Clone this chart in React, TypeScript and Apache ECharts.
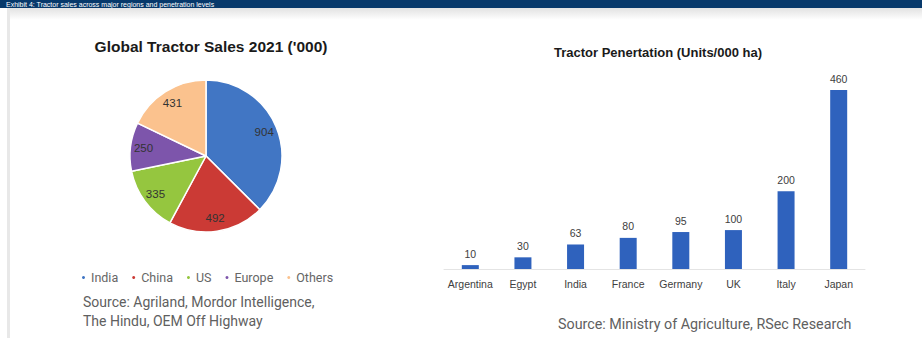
import React, { useEffect, useRef } from "react";
import * as echarts from "echarts";

const regions = ["India", "China", "US", "Europe", "Others"];
const sales = [904, 492, 335, 250, 431];
const regionColors = ["#4176C4", "#CB3A35", "#95C63F", "#7D55AB", "#FBC28E"];

const countries = ["Argentina", "Egypt", "India", "France", "Germany", "UK", "Italy", "Japan"];
const penetration = [10, 30, 63, 80, 95, 100, 200, 460];

const headerText = "Exhibit 4: Tractor sales across major regions and penetration levels";
const pieTitle = "Global Tractor Sales 2021 ('000)";
const barTitle = "Tractor Penertation (Units/000 ha)";
const sourceLeft1 = "Source: Agriland, Mordor Intelligence,";
const sourceLeft2 = "The Hindu, OEM Off Highway";
const sourceRight = "Source: Ministry of Agriculture, RSec Research";

export default function App() {
  const ref = useRef<HTMLDivElement>(null);
  useEffect(() => {
    if (!ref.current) return;
    const chart = echarts.init(ref.current, undefined, { renderer: "svg" });
    const pieData = regions.map((n, i) => ({ name: n, value: sales[i], itemStyle: { color: regionColors[i] } }));
    chart.setOption({
      animation: false,
      backgroundColor: "#ffffff",
      title: [
        {
          text: pieTitle,
          left: 206,
          top: 33,
          textAlign: "center",
          textStyle: { fontFamily: "Liberation Sans", fontSize: 15.5, fontWeight: "bold", color: "#1a1a1a" },
        },
        {
          text: barTitle,
          left: 653,
          top: 41,
          textAlign: "center",
          textStyle: { fontFamily: "Liberation Sans", fontSize: 13, fontWeight: "bold", color: "#1a1a1a" },
        },
      ],
      legend: {
        data: regions,
        left: 75,
        top: 266,
        icon: "circle",
        itemWidth: 5,
        itemHeight: 5,
        itemGap: 12,
        textStyle: { fontFamily: "Roboto", fontSize: 12.5, color: "#666666" },
      },
      grid: { left: 444, right: 57, top: 90, bottom: 69 },
      xAxis: {
        type: "category",
        data: countries,
        axisLine: { show: true, lineStyle: { color: "#E4E4E4" } },
        axisTick: { show: false },
        axisLabel: { interval: 0, fontFamily: "Liberation Sans", fontSize: 10.5, color: "#404040", margin: 9 },
      },
      yAxis: { type: "value", min: 0, max: 460, show: false, splitLine: { show: false } },
      graphic: [
        { type: "rect", shape: { x: 0, y: 0, width: 922, height: 8 }, style: { fill: "#07396B" } },
        {
          type: "text",
          x: 6,
          y: 4,
          style: {
            text: headerText,
            fill: "#ffffff",
            font: "7px 'Liberation Sans'",
            verticalAlign: "middle",
          },
        },
        {
          type: "rect",
          shape: { x: 7, y: 8, width: 915, height: 12 },
          style: {
            fill: new echarts.graphic.LinearGradient(0, 0, 0, 1, [
              { offset: 0, color: "#E2E2E2" },
              { offset: 1, color: "#FFFFFF" },
            ]),
          },
        },
        { type: "rect", shape: { x: 7, y: 8, width: 3, height: 330 }, style: { fill: "#E8E8E8" } },
        {
          type: "text",
          x: 83,
          y: 302,
          style: { text: sourceLeft1, fill: "#606060", font: "14px Roboto", verticalAlign: "middle" },
        },
        {
          type: "text",
          x: 83,
          y: 321,
          style: { text: sourceLeft2, fill: "#606060", font: "14px Roboto", verticalAlign: "middle" },
        },
        {
          type: "text",
          x: 558,
          y: 324,
          style: { text: sourceRight, fill: "#606060", font: "14.3px Roboto", verticalAlign: "middle" },
        },
      ],
      series: [
        {
          type: "pie",
          center: [206, 156],
          radius: [0, 76],
          startAngle: 90,
          clockwise: true,
          data: pieData,
          itemStyle: { borderColor: "#ffffff", borderWidth: 1.5 },
          label: { show: false },
          labelLine: { show: false },
        },
        {
          type: "pie",
          center: [206, 156],
          radius: [0, 120],
          startAngle: 90,
          clockwise: true,
          silent: true,
          data: pieData.map((d) => ({ name: d.name, value: d.value, itemStyle: { color: "rgba(0,0,0,0)" } })),
          itemStyle: { borderWidth: 0 },
          label: {
            show: true,
            position: "inside",
            formatter: "{c}",
            fontFamily: "Liberation Sans",
            fontSize: 11.5,
            color: "#333333",
          },
          labelLine: { show: false },
          z: 3,
        },
        {
          type: "bar",
          data: penetration,
          barWidth: 17,
          itemStyle: { color: "#2F62BD" },
          label: {
            show: true,
            position: "top",
            distance: 6,
            fontFamily: "Liberation Sans",
            fontSize: 10.5,
            color: "#404040",
          },
        },
      ],
    });
    return () => chart.dispose();
  }, []);
  return (
    <div
      ref={ref}
      style={{ position: "fixed", left: 0, top: 0, width: 922, height: 338 }}
    />
  );
}
